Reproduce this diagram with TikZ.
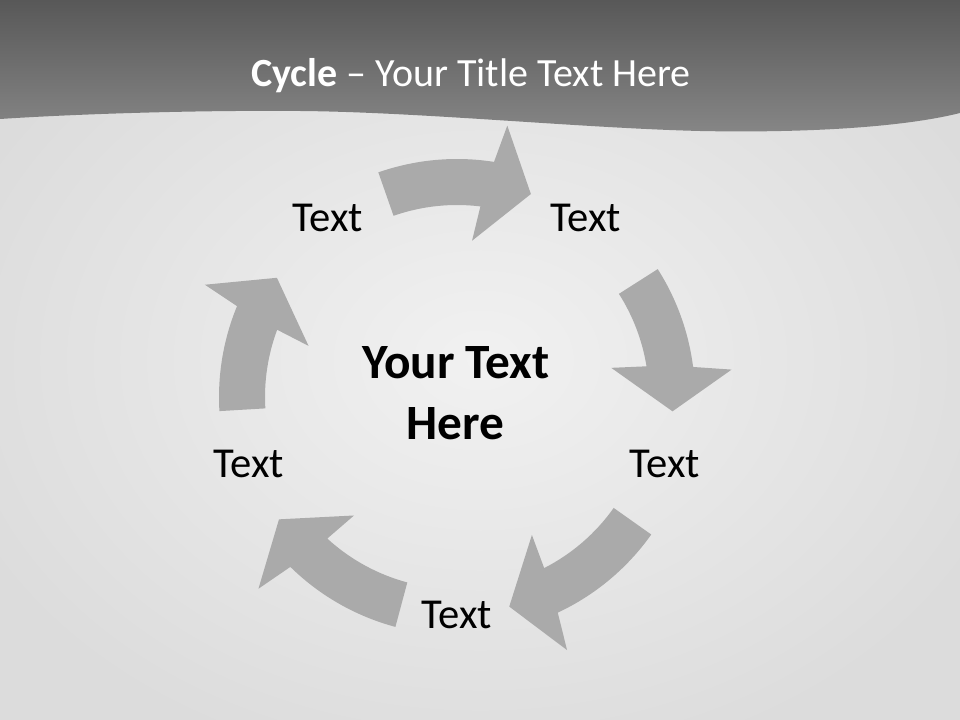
\documentclass[tikz,border=0pt]{standalone}
\usepackage{fontspec}
\setmainfont{Carlito}
\definecolor{arrowgray}{RGB}{170,170,170}
\definecolor{bgin}{RGB}{241,241,241}
\definecolor{bgout}{RGB}{220,220,220}
\definecolor{headtop}{RGB}{88,88,88}
\definecolor{headbot}{RGB}{134,134,134}
\tikzset{
  arrowfill/.style={fill=arrowgray},
  lbl/.style={anchor=base, font=\fontsize{32}{38}\selectfont, text=black, inner sep=0pt},
  ctrtxt/.style={anchor=base, font=\fontsize{37}{45.75}\selectfont\bfseries, text=black, align=center, inner sep=0pt},
  titletxt/.style={anchor=base, font=\fontsize{30}{36}\selectfont, text=white, inner sep=0pt}
}
\newcommand{\cycarrow}[2]{%
  \fill[arrowfill] ({#2}:238) arc[start angle={#2}, end angle={#1-8.95}, radius=238]
    -- ({#1-10.5}:276) -- ({#1-20}:216) -- ({#1-5.5}:157) -- ({#1-7}:192)
    arc[start angle={#1-7}, end angle={#2}, radius=192] -- cycle;}
\begin{document}
\begin{tikzpicture}[x=0.75pt,y=0.75pt]
\useasboundingbox (0,0) rectangle (960,-720);
% background
\shade[inner color=bgin, outer color=bgout] (-80,60) rectangle (1040,-780);
% header
\shade[top color=headtop, bottom color=headbot]
  (0,0) -- (960,0) -- (960,-113)
  .. controls (900,-128) and (800,-133) .. (700,-131)
  .. controls (580,-128) and (420,-112) .. (300,-111)
  .. controls (180,-110) and (60,-115) .. (0,-119) -- cycle;
\node[titletxt] (title) at (471,-87) {\textbf{Cycle} – Your Title Text Here};
% arrows
\begin{scope}[shift={(457,-397)}]
  \cycarrow{90}{109.3}
  \cycarrow{16.2}{32.5}
  \cycarrow{-56}{-35.3}
  \cycarrow{-125.5}{-105}
  \cycarrow{166.5}{183.4}
\end{scope}
% labels
\node[lbl] (t1) at (328,-232) {Text};
\node[lbl] (t2) at (586,-232) {Text};
\node[lbl] (t3) at (665,-477) {Text};
\node[lbl] (t4) at (457,-628) {Text};
\node[lbl] (t5) at (249,-477) {Text};
\node[ctrtxt] (c1) at (456,-378) {Your Text};
\node[ctrtxt] (c2) at (455,-439) {Here};
\end{tikzpicture}
\end{document}
